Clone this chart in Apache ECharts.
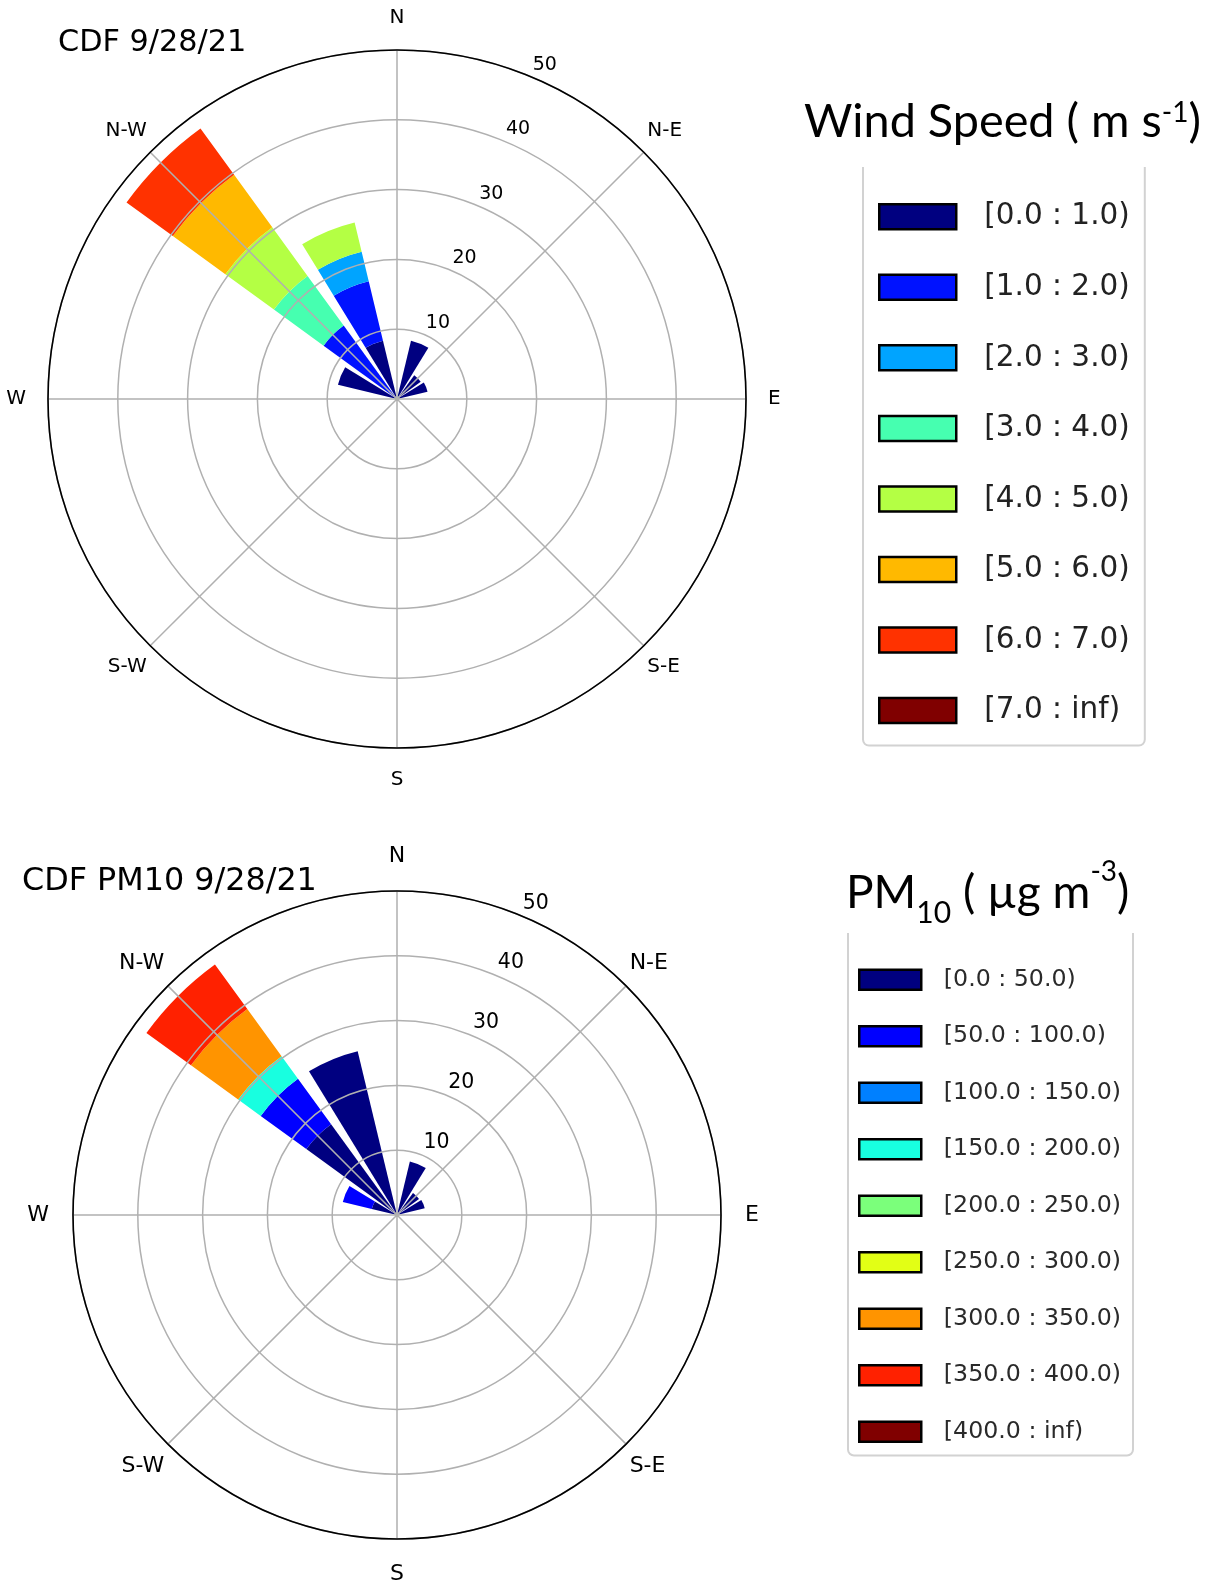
<!DOCTYPE html>
<html><head><meta charset="utf-8">
<script src="https://cdn.jsdelivr.net/npm/echarts@6/dist/echarts.min.js"></script>
<style>html,body{margin:0;padding:0;background:#fff}#c{width:1211px;height:1583px}</style>
</head><body><div id="c"></div>
<script>
// ---------- data ----------
const directions = ['N','NNE','NE','ENE','E','ESE','SE','SSE','S','SSW','SW','WSW','W','WNW','NW','NNW'];
const compassLabels = ['N','N-E','E','S-E','S','S-W','W','N-W'];

const speedBins = ['[0.0 : 1.0)','[1.0 : 2.0)','[2.0 : 3.0)','[3.0 : 4.0)','[4.0 : 5.0)','[5.0 : 6.0)','[6.0 : 7.0)','[7.0 : inf)'];
const speedColors = ['#000080','#0012ff','#00a4ff','#46ffb0','#b4ff44','#ffb900','#ff3200','#800000'];
//                N  NNE  NE  ENE E ESE SE SSE S SSW SW WSW W  WNW  NW   NNW
const speed0 = [0, 8.6, 4.2, 4.5, 0, 0, 0, 0, 0, 0, 0, 0, 0, 8.7, 0,    8.6];
const speed1 = [0, 0,   0,   0,   0, 0, 0, 0, 0, 0, 0, 0, 0, 0,   13.0, 8.75];
const speed2 = [0, 0,   0,   0,   0, 0, 0, 0, 0, 0, 0, 0, 0, 0,   0,    4.35];
const speed3 = [0, 0,   0,   0,   0, 0, 0, 0, 0, 0, 0, 0, 0, 0,   8.8,  0];
const speed4 = [0, 0,   0,   0,   0, 0, 0, 0, 0, 0, 0, 0, 0, 0,   8.6,  4.3];
const speed5 = [0, 0,   0,   0,   0, 0, 0, 0, 0, 0, 0, 0, 0, 0,   9.3,  0];
const speed6 = [0, 0,   0,   0,   0, 0, 0, 0, 0, 0, 0, 0, 0, 0,   8.2,  0];
const speed7 = [0, 0,   0,   0,   0, 0, 0, 0, 0, 0, 0, 0, 0, 0,   0,    0];
const speedValues = [speed0, speed1, speed2, speed3, speed4, speed5, speed6, speed7];

const pmBins = ['[0.0 : 50.0)','[50.0 : 100.0)','[100.0 : 150.0)','[150.0 : 200.0)','[200.0 : 250.0)','[250.0 : 300.0)','[300.0 : 350.0)','[350.0 : 400.0)','[400.0 : inf)'];
const pmColors = ['#000080','#0000ff','#0080ff','#18ffe0','#7bff7b','#e2ff15','#ff9400','#ff2100','#800000'];
//             N  NNE  NE  ENE E ESE SE SSE S SSW SW WSW W  WNW  NW    NNW
const pm0 = [0, 8.5, 4.2, 4.4, 0, 0, 0, 0, 0, 0, 0, 0, 0, 4.0, 17.3, 26.0];
const pm1 = [0, 0,   0,   0,   0, 0, 0, 0, 0, 0, 0, 0, 0, 4.6, 8.7,  0];
const pm2 = [0, 0,   0,   0,   0, 0, 0, 0, 0, 0, 0, 0, 0, 0,   0,    0];
const pm3 = [0, 0,   0,   0,   0, 0, 0, 0, 0, 0, 0, 0, 0, 0,   4.3,  0];
const pm4 = [0, 0,   0,   0,   0, 0, 0, 0, 0, 0, 0, 0, 0, 0,   0,    0];
const pm5 = [0, 0,   0,   0,   0, 0, 0, 0, 0, 0, 0, 0, 0, 0,   0,    0];
const pm6 = [0, 0,   0,   0,   0, 0, 0, 0, 0, 0, 0, 0, 0, 0,   9.0,  0];
const pm7 = [0, 0,   0,   0,   0, 0, 0, 0, 0, 0, 0, 0, 0, 0,   8.5,  0];
const pm8 = [0, 0,   0,   0,   0, 0, 0, 0, 0, 0, 0, 0, 0, 0,   0,    0];
const pmValues = [pm0, pm1, pm2, pm3, pm4, pm5, pm6, pm7, pm8];

const radiusMax = 50, radiusStep = 10;

// ---------- layout ----------
const FONT = 'DejaVu Sans';
const roses = [
  {cx: 397, cy: 399, r: 349, dirFont: 20, dirMargin: 5, dirPad: 17, diagPad: 7.5, radFont: 19, labShift: [14.2, -11.5]},
  {cx: 397, cy: 1215, r: 324, dirFont: 22, dirMargin: 5, dirPad: 19, diagPad: 8, radFont: 20.5, labShift: [14.7, -12.4]}
];

const polar = [], angleAxis = [], radiusAxis = [];
roses.forEach((ro, k) => {
  const base = k * 3;
  // bars
  polar.push({center: [ro.cx, ro.cy], radius: ro.r});
  angleAxis.push({polarIndex: base, type: 'category', data: directions, startAngle: 90 + 11.25, clockwise: true,
    boundaryGap: true, axisLine: {show: false}, axisTick: {show: false}, axisLabel: {show: false}, splitLine: {show: false}});
  radiusAxis.push({polarIndex: base, min: 0, max: radiusMax, axisLine: {show: false}, axisTick: {show: false},
    axisLabel: {show: false}, splitLine: {show: false}});
  // grid
  polar.push({center: [ro.cx, ro.cy], radius: ro.r});
  angleAxis.push({polarIndex: base + 1, type: 'value', min: 0, max: 360, interval: 45, startAngle: 90, clockwise: true, z: 5,
    axisLine: {show: true, lineStyle: {color: '#000', width: 1.6}},
    axisTick: {show: false},
    splitLine: {show: true, lineStyle: {color: '#b0b0b0', width: 1.5}},
    axisLabel: {show: true, margin: ro.dirMargin, color: '#000', fontFamily: FONT, fontSize: ro.dirFont,
      formatter: v => {
        const i = Math.round(v / 45);
        if (i >= 8) return '';
        return (i % 2 === 0 ? '{c|' : '{d|') + compassLabels[i] + '}';
      },
      rich: {c: {fontSize: ro.dirFont, fontFamily: FONT, color: '#000', padding: ro.dirPad},
             d: {fontSize: ro.dirFont, fontFamily: FONT, color: '#000', padding: [ro.diagPad, 0, ro.diagPad, 0]}}}});
  radiusAxis.push({polarIndex: base + 1, min: 0, max: radiusMax, interval: radiusStep, z: 5,
    axisLine: {show: false}, axisTick: {show: false}, axisLabel: {show: false},
    splitLine: {show: true, lineStyle: {color: '#b0b0b0', width: 1.5}}});
  // radius labels
  polar.push({center: [ro.cx + ro.labShift[0], ro.cy + ro.labShift[1]], radius: ro.r});
  angleAxis.push({polarIndex: base + 2, type: 'value', min: 0, max: 360, startAngle: 67.5, clockwise: true,
    axisLine: {show: false}, axisTick: {show: false}, axisLabel: {show: false}, splitLine: {show: false}});
  radiusAxis.push({polarIndex: base + 2, min: 0, max: radiusMax, interval: radiusStep, z: 6,
    axisLine: {show: false}, axisTick: {show: false}, splitLine: {show: false},
    axisLabel: {show: true, margin: 0, align: 'center', verticalAlign: 'middle', color: '#000',
      fontFamily: FONT, fontSize: ro.radFont, formatter: v => (v === 0 ? '' : String(v))}});
});

const series = [];
speedBins.forEach((name, i) => series.push({type: 'bar', coordinateSystem: 'polar', polarIndex: 0, stack: 'speed',
  name, data: speedValues[i], barCategoryGap: '20%', itemStyle: {color: speedColors[i]}, silent: true}));
pmBins.forEach((name, i) => series.push({type: 'bar', coordinateSystem: 'polar', polarIndex: 3, stack: 'pm',
  name, data: pmValues[i], barCategoryGap: '20%', itemStyle: {color: pmColors[i]}, silent: true}));

const option = {
  animation: false,
  textStyle: {fontFamily: FONT},
  title: [
    {text: 'CDF 9/28/21', left: 53, top: 23, textStyle: {fontFamily: FONT, fontSize: 30.3, fontWeight: 'normal', color: '#000'}},
    {text: 'CDF PM10 9/28/21', left: 17, top: 861, textStyle: {fontFamily: FONT, fontSize: 31.8, fontWeight: 'normal', color: '#000'}}
  ],
  polar, angleAxis, radiusAxis, series,
  legend: [
    {data: speedBins, orient: 'vertical', left: 863, top: 150, icon: 'rect', itemWidth: 77, itemHeight: 25, itemGap: 40.55,
     padding: [51.75, 15, 20, 15], borderColor: '#d2d2d2', borderWidth: 2, borderRadius: 6, selectedMode: false,
     itemStyle: {borderColor: '#000', borderWidth: 2.5},
     textStyle: {fontFamily: FONT, fontSize: 29.5, color: '#222', padding: [0, 0, 0, 23]}},
    {data: pmBins, orient: 'vertical', left: 848, top: 915, icon: 'rect', itemWidth: 62, itemHeight: 20, itemGap: 32.5,
     padding: [52.65, 12, 11.8, 10], borderColor: '#d2d2d2', borderWidth: 2, borderRadius: 6, selectedMode: false,
     itemStyle: {borderColor: '#000', borderWidth: 2.5},
     textStyle: {fontFamily: FONT, fontSize: 23.7, color: '#2a2a2a', padding: [0, 0, 0, 17.6]}}
  ],
  graphic: [
    {type: 'rect', shape: {x: 850, y: 145, width: 310, height: 22}, style: {fill: '#fff'}, z: 50},
    {type: 'rect', shape: {x: 835, y: 905, width: 310, height: 28}, style: {fill: '#fff'}, z: 50},
    {type: 'text', x: 804, y: 122, z: 60, style: {
      text: '{a|Wind Speed ( m s}{b|-1}{a|)}', verticalAlign: 'middle',
      rich: {a: {fontFamily: 'Lato', fontSize: 46.8, fill: '#000', verticalAlign: 'bottom'},
             b: {fontFamily: 'Lato', fontSize: 28, fill: '#000', verticalAlign: 'top'}}}},
    {type: 'text', x: 846, y: 893, z: 60, style: {
      text: '{a|PM}{s|10}{a| ( µg m}{b|-3}{a|)}', verticalAlign: 'middle',
      rich: {a: {fontFamily: 'Lato', fontSize: 46, fill: '#000'},
             s: {fontFamily: 'Lato', fontSize: 30, fill: '#000', verticalAlign: 'bottom', lineHeight: 70},
             b: {fontFamily: 'Lato', fontSize: 28, fill: '#000', verticalAlign: 'top'}}}}
  ]
};
const chart = echarts.init(document.getElementById('c'), null, {renderer: 'canvas'});
chart.setOption(option);
</script></body></html>
